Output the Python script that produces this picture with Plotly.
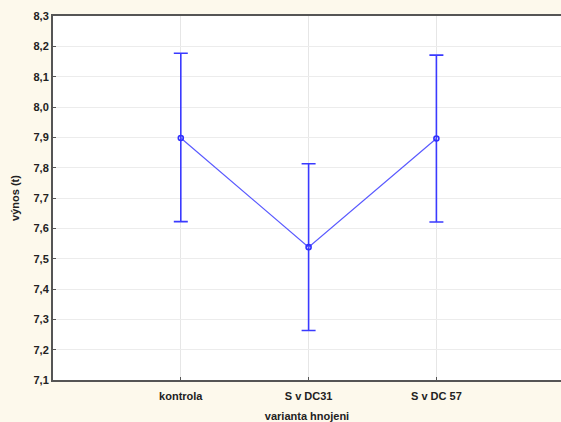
import plotly.graph_objects as go

categories = ["kontrola", "S v DC31", "S v DC 57"]
means = [7.898, 7.538, 7.896]
upper = [8.177, 7.813, 8.171]
lower = [7.622, 7.263, 7.621]
y_ticks = [7.1, 7.2, 7.3, 7.4, 7.5, 7.6, 7.7, 7.8, 7.9, 8.0, 8.1, 8.2, 8.3]
y_tick_labels = [f"{v:.1f}".replace(".", ",") for v in y_ticks]

xpos = list(range(len(categories)))
err_plus = [u - m for u, m in zip(upper, means)]
err_minus = [m - l for m, l in zip(means, lower)]

fig = go.Figure()
fig.add_trace(go.Scatter(
    x=xpos, y=means, mode="lines+markers",
    line=dict(color="#5a5aff", width=1.2),
    marker=dict(color="#3030ff", size=5, symbol="circle-open", line=dict(width=1.6, color="#3030ff")),
    error_y=dict(type="data", symmetric=False, array=err_plus, arrayminus=err_minus,
                 color="#3a3aff", thickness=1.6, width=7),
    showlegend=False,
))

tf = dict(family="Liberation Sans, Arial, sans-serif", size=11, color="#222222", weight="bold")
fig.update_layout(
    width=561, height=422,
    margin=dict(l=53, r=0, t=16, b=42),
    paper_bgcolor="#fdf9ec",
    plot_bgcolor="white",
    font=dict(family="Liberation Sans, Arial, sans-serif", size=11, color="#222222"),
    xaxis=dict(
        range=[-1, 2.975], tickvals=xpos, ticktext=categories,
        showgrid=True, gridcolor="#e6e6e6", gridwidth=1,
        showline=True, linecolor="#555555", linewidth=2, mirror=True,
        ticks="inside", ticklen=3, tickcolor="#555555",
        tickfont=tf, ticklabelstandoff=5,
        zeroline=False,
        title=dict(text="varianta hnojeni", standoff=12, font=tf),
    ),
    yaxis=dict(
        range=[7.1, 8.3], tickvals=y_ticks, ticktext=y_tick_labels,
        showgrid=True, gridcolor="#ececec", gridwidth=1,
        showline=True, linecolor="#555555", linewidth=2,
        ticks="inside", ticklen=3, tickcolor="#555555",
        tickfont=tf,
        zeroline=False,
        title=dict(text="výnos (t)", standoff=12, font=tf),
    ),
)

fig.write_html("out.html")
